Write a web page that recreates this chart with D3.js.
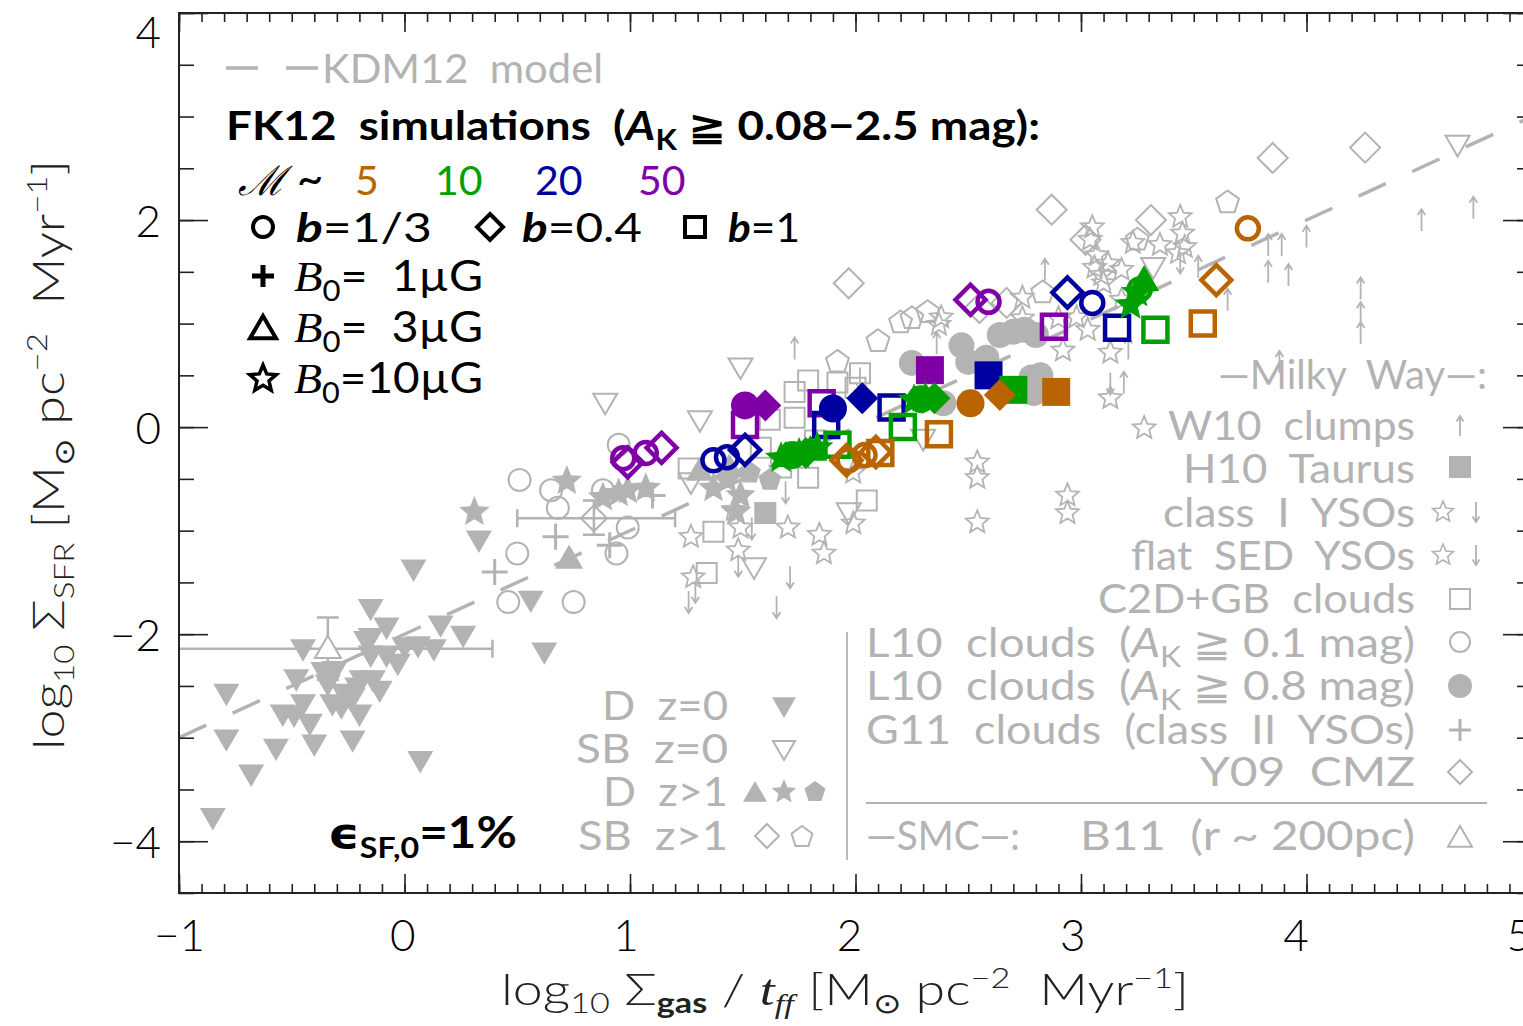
<!DOCTYPE html>
<html><head><meta charset="utf-8">
<script src="https://cdn.jsdelivr.net/npm/d3@7"></script>
<style>
body{margin:0;background:#fff}
svg text{font-family:Lato,"DejaVu Sans",sans-serif;white-space:pre}
</style></head><body>
<script>
// ---- data (log10 Sigma_gas/t_ff , log10 Sigma_SFR) ----
const xTicks = [-1, 0, 1, 2, 3, 4, 5];
const yTicks = [-4, -2, 0, 2, 4];
const kdmLine = [[-1, -3], [5, 3]];

// galaxies
const dZ0 = [[-0.79,-2.57],[-0.79,-3.01],[-0.68,-3.35],[-0.85,-3.77],[-0.57,-3.10],[-0.54,-2.77],[-0.49,-2.78],
  [-0.45,-2.67],[-0.48,-2.43],[-0.42,-2.86],[-0.40,-3.06],[-0.45,-2.14],[-0.36,-2.36],[-0.31,-2.35],[-0.32,-2.67],
  [-0.28,-2.70],[-0.23,-2.61],[-0.20,-2.77],[-0.23,-3.02],[-0.15,-1.75],[-0.15,-2.03],[-0.08,-1.93],[-0.15,-2.20],
  [-0.08,-2.20],[-0.03,-2.28],[-0.19,-2.44],[-0.14,-2.44],[-0.11,-2.54],[0.00,-2.12],[0.06,-2.11],[0.13,-2.14],
  [0.16,-1.91],[0.26,-2.01],[0.04,-1.37],[0.07,-3.22],[0.33,-1.09],[0.56,-1.67],[0.62,-2.17],[-0.17,-2.06],
  [-0.34,-2.48],[-0.27,-2.57],[-0.21,-2.51]];
const sbZ0 = [[0.89,0.24],[1.49,0.58],[1.31,0.07],[1.27,-0.53],[1.55,-1.35],[1.97,-0.82],[2.30,-0.11],[3.32,1.55],[4.67,2.73]];
const dZ1Tri = [[0.73,-1.27],[1.31,-0.42],[1.44,-0.39]];
const dZ1Star = [[0.31,-0.82],[0.72,-0.52],[0.88,-0.68],[0.95,-0.64],[0.99,-0.61],[1.07,-0.59],[1.43,-0.51],[1.49,-0.66],[1.47,-0.82],[1.37,-0.59]];
const dZ1Pent = [[1.53,-0.44],[1.62,-0.51]];
const sbZ1Diam = [[1.97,1.39],[2.87,2.10],[3.31,2.00],[3.85,2.60],[4.26,2.70],[3.02,1.81],[2.67,1.20],[2.55,1.15]];
const sbZ1Pent = [[1.92,0.63],[2.10,0.83],[2.20,1.01],[2.25,1.05],[2.32,1.11],[2.83,1.30],[3.25,1.81],[3.65,2.17]];

// Milky Way
const w10Clumps = [[1.73,0.76],[2.36,0.81],[2.84,1.52],[3.21,0.76],[3.19,0.43],[3.52,1.55],[3.65,1.23],[3.83,1.76],
  [3.89,1.76],[4.00,1.84],[3.83,1.50],[3.92,1.47],[4.24,1.34],[4.24,1.10],[4.24,0.91],[4.51,2.00],[4.74,2.12],[3.88,0.63]];
const h10Taurus = [[1.60,-0.83]];
const ysoStars = [[1.27,-1.06],[1.46,-0.80],[1.49,-0.97],[1.48,-1.19],[1.28,-1.45],[1.70,-0.97],[1.84,-1.04],[1.86,-1.22],
  [1.99,-0.93],[1.99,-0.44],[2.54,-0.34],[2.54,-0.49],[2.54,-0.92],[2.94,-0.66],[2.94,-0.83],[3.13,0.28],[3.28,-0.01],
  [2.38,1.06],[2.37,0.99],[2.74,1.25],[2.74,1.05],[2.92,0.74],[3.13,0.72],[2.98,1.06],[3.03,0.94],[3.05,1.93],
  [3.12,1.58],[3.06,1.54],[3.09,1.47],[3.10,1.39],[3.23,1.78],[3.44,2.03],[3.45,1.87],[3.46,1.74],[3.43,1.68],
  [3.04,1.81],[3.18,1.52],[3.07,1.66],[2.90,1.05],[3.18,1.23],[3.35,1.76]];
const ysoLimits = [[1.26,-1.69],[1.29,-1.59],[1.48,-1.34],[1.65,-1.74],[1.71,-1.45],[1.54,-0.98],[1.69,-0.63],[2.02,0.47],[3.13,0.42],[3.44,1.59]];
const c2dClouds = [[1.26,-0.40],[1.37,-1.01],[1.34,-1.41],[1.62,0.07],[1.73,0.09],[1.73,0.34],[1.79,0.45],[1.92,0.43],
  [2.02,0.52],[2.00,0.38],[1.67,-0.39],[1.79,-0.49],[2.05,-0.71],[1.58,-0.20],[1.82,-0.13]];
const l10Low = [[0.51,-0.51],[0.65,-0.61],[0.68,-0.78],[0.50,-1.22],[0.46,-1.69],[0.75,-1.69],[0.94,-1.22],[0.99,-0.97],[0.95,-0.17],[0.88,-0.61]];
const l10High = [[2.25,0.62],[2.39,0.23],[2.47,0.79],[2.50,0.63],[2.58,0.67],[2.64,0.89],[2.70,0.92],[2.75,0.94],[2.80,0.89],[2.78,0.48],[2.82,0.50],[2.79,0.33]];
const g11Clouds = [[0.67,-1.06],[0.40,-1.40],[0.91,-1.14],[1.10,-0.66]];
const y09Cmz = [[0.84,-0.88,0.50,1.20,-1.04,-0.71]];   // x, y, xlo, xhi, ylo, yhi
const b11Smc = [[-0.34,-2.14,-1.10,0.39,-2.44,-1.84]];

// FK12 simulations: [marker, x, y]
const fkM5 = [["circleOpen",3.74,1.92],["diamondOpen",3.60,1.42],["squareOpen",3.54,1.00],["squareFilled",2.89,0.34],
  ["circleFilled",2.51,0.23],["diamondFilled",2.64,0.31],["squareOpen",2.37,-0.07],["circleOpen",1.97,-0.32],
  ["diamondOpen",1.96,-0.32],["circleOpen",2.04,-0.27],["diamondOpen",2.09,-0.24],["squareOpen",2.11,-0.25]];
const fkM10 = [["starFilled",1.67,-0.30],["triFilled",1.69,-0.28],["circleFilled",1.72,-0.27],["starFilled",1.75,-0.26],
  ["diamondFilled",1.78,-0.25],["triFilled",1.80,-0.22],["starFilled",1.83,-0.20],["starFilled",2.26,0.26],
  ["circleFilled",2.29,0.27],["triFilled",2.31,0.29],["diamondFilled",2.35,0.28],["starFilled",3.22,1.18],
  ["starFilled",3.25,1.30],["triFilled",3.28,1.42],["circleOpen",3.26,1.33],["squareOpen",1.92,-0.17],
  ["squareOpen",2.21,0.00],["squareOpen",3.33,0.94],["squareFilled",2.70,0.36]];
const fkM20 = [["circleOpen",1.37,-0.32],["circleOpen",1.43,-0.29],["diamondOpen",1.51,-0.22],["circleOpen",3.05,1.20],
  ["diamondOpen",2.94,1.30],["circleFilled",1.90,0.18],["diamondFilled",2.03,0.28],["squareOpen",1.87,0.02],
  ["squareOpen",2.16,0.19],["squareOpen",3.16,0.96],["squareFilled",2.59,0.50]];
const fkM50 = [["circleOpen",0.97,-0.30],["diamondOpen",0.99,-0.34],["circleOpen",1.07,-0.25],["diamondOpen",1.14,-0.20],
  ["diamondOpen",2.51,1.23],["circleOpen",2.59,1.21],["circleFilled",1.51,0.21],["diamondFilled",1.60,0.21],
  ["squareOpen",1.51,0.02],["squareOpen",1.85,0.23],["squareOpen",2.88,0.97],["squareFilled",2.33,0.55]];

// ---- drawing ----
const W = 1523, H = 1026;
const GRAY = "#b3b3b3";
const machColor = {M5:"#b86400", M10:"#00a000", M20:"#0000a0", M50:"#8000a8"};

const svg = d3.select("body").append("svg").attr("width", W).attr("height", H);
const x = d3.scaleLinear().domain([-1, 5]).range([179, 1532]);
const y = d3.scaleLinear().domain([-4.5, 4]).range([893, 13]);

svg.append("clipPath").attr("id","clip").append("rect")
  .attr("x", x(-1)).attr("y", y(4)).attr("width", x(5)-x(-1)).attr("height", y(-4.5)-y(4));

function poly(n, s, rot) {
  const p = [];
  for (let i = 0; i < n; i++) { const a = rot + i*2*Math.PI/n; p.push([s*Math.cos(a), s*Math.sin(a)]); }
  return "M" + p.map(d => d[0].toFixed(2)+","+d[1].toFixed(2)).join("L") + "Z";
}
function starP(R, r) {
  const p = [];
  for (let i = 0; i < 10; i++) { const a = -Math.PI/2 + i*Math.PI/5, q = i%2 ? r : R; p.push([q*Math.cos(a), q*Math.sin(a)]); }
  return "M" + p.map(d => d[0].toFixed(2)+","+d[1].toFixed(2)).join("L") + "Z";
}
function shape(t, s) {
  switch (t) {
    case "circle": return `M${s},0A${s},${s} 0 1,1 ${-s},0A${s},${s} 0 1,1 ${s},0Z`;
    case "square": return `M${-s},${-s}H${s}V${s}H${-s}Z`;
    case "diamond": return `M0,${-s}L${s},0L0,${s}L${-s},0Z`;
    case "tri": return `M0,${-s}L${s},${0.72*s}L${-s},${0.72*s}Z`;
    case "dtri": return `M0,${s}L${s},${-0.72*s}L${-s},${-0.72*s}Z`;
    case "star": return starP(s, s*0.45);
    case "pent": return poly(5, s, -Math.PI/2);
    case "plus": return `M${-s},0H${s}M0,${-s}V${s}`;
    case "up": return `M0,${s}V${-s}M${-s*0.35},${-s*0.45}L0,${-s}L${s*0.35},${-s*0.45}`;
    case "down": return `M0,${-s}V${s}M${-s*0.35},${s*0.45}L0,${s}L${s*0.35},${s*0.45}`;
  }
}

const plot = svg.append("g").attr("clip-path", "url(#clip)");

// model line
plot.append("path").datum(kdmLine)
  .attr("d", d3.line().x(d => x(d[0])).y(d => y(d[1])))
  .attr("fill","none").attr("stroke",GRAY).attr("stroke-width",3.5).attr("stroke-dasharray","30,29");

function pts(data, t, s, style) {
  plot.append("g").selectAll("path").data(data).join("path")
    .attr("transform", d => `translate(${x(d[0])},${y(d[1])})`)
    .attr("d", shape(t, s))
    .attr("fill", style.fill || "none")
    .attr("stroke", style.stroke || "none")
    .attr("stroke-width", style.sw || 0)
    .attr("stroke-linejoin","miter");
}
function errbars(data) {
  const g = plot.append("g").attr("stroke", GRAY).attr("stroke-width", 2.5).attr("fill","none");
  data.forEach(d => {
    g.append("path").attr("d",
      `M${x(d[2])},${y(d[1])}H${x(d[3])}M${x(d[2])},${y(d[1])-9}v18M${x(d[3])},${y(d[1])-9}v18` +
      `M${x(d[0])},${y(d[4])}V${y(d[5])}M${x(d[0])-11},${y(d[4])}h22M${x(d[0])-11},${y(d[5])}h22`);
  });
}

errbars(b11Smc);
errbars(y09Cmz);
pts(dZ0, "dtri", 13, {fill: GRAY});
pts(sbZ0, "dtri", 12, {stroke: GRAY, sw: 2});
pts(dZ1Tri, "tri", 14, {fill: GRAY});
pts(dZ1Star, "star", 16, {fill: GRAY});
pts(dZ1Pent, "pent", 12, {fill: GRAY});
pts(sbZ1Diam, "diamond", 15, {stroke: GRAY, sw: 2});
pts(sbZ1Pent, "pent", 12, {stroke: GRAY, sw: 2});
pts(w10Clumps, "up", 11, {stroke: GRAY, sw: 1.8});
pts(ysoLimits, "down", 11, {stroke: GRAY, sw: 1.8});
pts(ysoStars, "star", 12, {stroke: GRAY, sw: 1.8});
pts(c2dClouds, "square", 10, {stroke: GRAY, sw: 2});
pts(l10Low, "circle", 11, {stroke: GRAY, sw: 2});
pts(l10High, "circle", 13, {fill: GRAY});
pts(g11Clouds, "plus", 13, {stroke: GRAY, sw: 3});
pts(h10Taurus, "square", 11, {fill: GRAY});
pts(b11Smc, "tri", 13, {stroke: GRAY, sw: 2, fill: "#fff"});
pts(y09Cmz, "diamond", 13, {stroke: GRAY, sw: 2});

const markerDef = {
  circleOpen: ["circle", 11, false], circleFilled: ["circle", 14, true],
  squareOpen: ["square", 12, false], squareFilled: ["square", 14, true],
  diamondOpen: ["diamond", 15, false], diamondFilled: ["diamond", 16, true],
  starFilled: ["star", 17, true], triFilled: ["tri", 15, true]
};
[["M50", fkM50], ["M20", fkM20], ["M10", fkM10], ["M5", fkM5]].forEach(([k, arr]) => {
  const c = machColor[k];
  plot.append("g").selectAll("path").data(arr).join("path")
    .attr("transform", d => `translate(${x(d[1])},${y(d[2])})`)
    .attr("d", d => shape(markerDef[d[0]][0], markerDef[d[0]][1]))
    .attr("fill", d => markerDef[d[0]][2] ? c : "none")
    .attr("stroke", d => markerDef[d[0]][2] ? "none" : c)
    .attr("stroke-width", 4.5);
});

// ---- axes ----
const fmt = d => d < 0 ? "\u2212" + Math.abs(d) : String(d);
const xMinor = d3.range(-1, 5.0001, 0.1).map(v => +v.toFixed(2));
const yMinor = d3.range(-4.5, 4.0001, 0.5);
function styleAx(g) { g.select(".domain").remove(); g.selectAll("line").attr("stroke","#222").attr("stroke-width",1.6); }
const fs = 44;
svg.append("g").attr("transform",`translate(0,${y(-4.5)})`).call(d3.axisBottom(x).tickValues(xMinor).tickSize(-9).tickFormat("")).call(styleAx);
svg.append("g").attr("transform",`translate(0,${y(-4.5)})`).call(d3.axisBottom(x).tickValues(xTicks).tickSize(-19).tickPadding(27).tickFormat(fmt)).call(styleAx)
  .selectAll("text").attr("font-size", fs).attr("font-weight",300).attr("fill","#000").attr("font-family","Lato")
  .attr("dx", d => -(d + 1) * 2.2);
svg.append("g").attr("transform",`translate(0,${y(4)})`).call(d3.axisTop(x).tickValues(xMinor).tickSize(-9).tickFormat("")).call(styleAx);
svg.append("g").attr("transform",`translate(0,${y(4)})`).call(d3.axisTop(x).tickValues(xTicks).tickSize(-19).tickFormat("")).call(styleAx);
svg.append("g").attr("transform",`translate(${x(-1)},0)`).call(d3.axisLeft(y).tickValues(yMinor).tickSize(-15).tickFormat("")).call(styleAx);
svg.append("g").attr("transform",`translate(${x(-1)},0)`).call(d3.axisLeft(y).tickValues(yTicks).tickSize(-29).tickPadding(18).tickFormat(fmt)).call(styleAx)
  .selectAll("text").attr("font-size", fs).attr("font-weight",300).attr("fill","#000").attr("font-family","Lato")
  .attr("y", d => d === 4 ? 20 : 2);
svg.append("g").attr("transform",`translate(${x(5)},0)`).call(d3.axisRight(y).tickValues(yMinor).tickSize(-15).tickFormat("")).call(styleAx);
svg.append("g").attr("transform",`translate(${x(5)},0)`).call(d3.axisRight(y).tickValues(yTicks).tickSize(-29).tickFormat("")).call(styleAx);
svg.append("rect").attr("x", x(-1)).attr("y", y(4)).attr("width", x(5)-x(-1)).attr("height", y(-4.5)-y(4))
  .attr("fill","none").attr("stroke","#222").attr("stroke-width",2);

// rich text helper: sub/superscripts
function rich(t, parts, subDy) {
  const sd = subDy || 10;
  parts.forEach(p => {
    const s = t.append("tspan").text(p.t);
    if (p.sub) s.attr("font-size", 28).attr("dy", sd);
    if (p.sup) s.attr("font-size", 28).attr("dy", -17);
    if (p.back) s.attr("dy", p.back);
    if (p.it) s.attr("font-style","italic");
    if (p.w) s.attr("font-weight", p.w);
    if (p.ff) s.attr("font-family", p.ff);
  });
  return t;
}
function fit(t, len) { return t.attr("textLength", len).attr("lengthAdjust", "spacingAndGlyphs"); }

const yl = svg.append("text").attr("transform","translate(64,455) rotate(-90)").attr("text-anchor","middle")
  .attr("font-size", 44).attr("font-weight",300).attr("fill","#222");
rich(yl, [{t:"log"},{t:"10",sub:1},{t:" \u03a3",back:-10},{t:"SFR",sub:1},{t:" [M",back:-10},{t:"\u2299",sub:1,ff:"DejaVu Sans"},
  {t:" pc",back:-10},{t:"\u22122",sup:1},{t:"  Myr",back:17},{t:"\u22121",sup:1},{t:"]",back:17}]);
fit(yl, 590);
const xl = svg.append("text").attr("x", 845).attr("y", 1005).attr("text-anchor","middle")
  .attr("font-size", 44).attr("font-weight",300).attr("fill","#222");
rich(xl, [{t:"log"},{t:"10",sub:1},{t:" \u03a3",back:-8},{t:"gas",sub:1,w:700},{t:" / ",back:-8},{t:"t",it:1,ff:"Liberation Serif"},
  {t:"ff",sub:1,it:1,ff:"Liberation Serif"},{t:" [M",back:-8},{t:"\u2299",sub:1,ff:"DejaVu Sans"},
  {t:" pc",back:-8},{t:"\u22122",sup:1},{t:"  Myr",back:17},{t:"\u22121",sup:1},{t:"]",back:17}], 8);
fit(xl, 688);

// ---- legends ----
const lg = svg.append("g");
function txt(xp, yp, anchor, color, size, weight) {
  return lg.append("text").attr("x", xp).attr("y", yp).attr("text-anchor", anchor)
    .attr("fill", color).attr("font-size", size).attr("font-weight", weight);
}
function sym(t, s, xp, yp, style) {
  lg.append("path").attr("transform",`translate(${xp},${yp})`).attr("d", shape(t, s))
    .attr("fill", style.fill || "none").attr("stroke", style.stroke || "none").attr("stroke-width", style.sw || 0);
}
// KDM12
lg.append("path").attr("d","M226,68H258M286,68H318").attr("stroke",GRAY).attr("stroke-width",3.5);
fit(txt(322, 83, "start", GRAY, 41, 400).text("KDM12  model"), 281);
// FK12
fit(rich(txt(226, 140, "start", "#000", 41, 700), [{t:"FK12  simulations  ("},{t:"A",it:1},{t:"K",sub:1},{t:" \u2267 0.08\u22122.5 mag):",back:-10}]), 814);
const mt = txt(238, 195, "start", "#000", 41, 400);
mt.append("tspan").text("\u2133").attr("font-family","DejaVu Serif").attr("font-style","italic");
mt.append("tspan").text(" ~  ").attr("font-size", 46);
[["5","M5"],["10","M10"],["20","M20"],["50","M50"]].forEach(([s,k],i) => {
  mt.append("tspan").attr("x", [355,435,535,638][i]).text(s).attr("fill", machColor[k]);
});
sym("circle", 10, 263, 227, {stroke:"#000", sw:4});
fit(rich(txt(296, 242, "start", "#000", 41, 400), [{t:"b",it:1,w:700},{t:"=1/3"}]), 136);
sym("diamond", 13, 490, 227, {stroke:"#000", sw:4});
fit(rich(txt(522, 242, "start", "#000", 41, 400), [{t:"b",it:1,w:700},{t:"=0.4"}]), 120);
sym("square", 10, 695, 227, {stroke:"#000", sw:4});
fit(rich(txt(728, 242, "start", "#000", 41, 400), [{t:"b",it:1,w:700},{t:"=1"}]), 72);
sym("plus", 11, 263, 276, {stroke:"#000", sw:5});
sym("tri", 13, 263, 329, {stroke:"#000", sw:4});
sym("star", 14, 263, 379, {stroke:"#000", sw:3.5});
[["  1\u00b5G",291],["  3\u00b5G",342],["10\u00b5G",393]].forEach(([v,yy]) => {
  fit(rich(txt(294, yy, "start", "#000", 42, 400), [{t:"B",it:1,ff:"Liberation Serif"},{t:"0",sub:1},{t:"=",back:-10},{t:v}]), 189);
});
fit(rich(txt(328, 848, "start", "#000", 43, 700), [{t:"\u03f5",ff:"DejaVu Sans"},{t:"SF,0",sub:1},{t:"=1%",back:-10}]), 189);

// bottom-left galaxy key
[["D  z=0",720,126],["SB  z=0",763,152],["D  z>1",806,125],["SB  z>1",850,150]].forEach(([s,yy,w]) => fit(txt(728, yy, "end", GRAY, 40, 400).text(s), w));
sym("dtri", 12, 784, 706, {fill: GRAY});
sym("dtri", 11, 784, 749, {stroke: GRAY, sw: 2});
sym("tri", 12, 755, 793, {fill: GRAY});
sym("star", 13, 784, 792, {fill: GRAY});
sym("pent", 11, 815, 792, {fill: GRAY});
sym("diamond", 12, 767, 836, {stroke: GRAY, sw: 2});
sym("pent", 11, 802, 837, {stroke: GRAY, sw: 2});

// right key
fit(txt(1487, 389, "end", GRAY, 40, 400).text("\u2014Milky  Way\u2014:"), 269);
const rk = [["W10  clumps",426,247],["H10  Taurus",469,232],["class  I  YSOs",513,252],["flat  SED  YSOs",556,284],["C2D+GB  clouds",599,317]];
rk.forEach(([s,yy,w]) => fit(txt(1415, yy+14, "end", GRAY, 40, 400).text(s), w));
fit(rich(txt(1415, 657, "end", GRAY, 40, 400), [{t:"L10  clouds  ("},{t:"A",it:1},{t:"K",sub:1},{t:" \u2267 0.1 mag)",back:-10}]), 549);
fit(rich(txt(1415, 700, "end", GRAY, 40, 400), [{t:"L10  clouds  ("},{t:"A",it:1},{t:"K",sub:1},{t:" \u2267 0.8 mag)",back:-10}]), 549);
fit(txt(1415, 744, "end", GRAY, 40, 400).text("G11  clouds  (class  II  YSOs)"), 549);
fit(txt(1415, 786, "end", GRAY, 40, 400).text("Y09  CMZ"), 215);
fit(txt(866, 850, "start", GRAY, 40, 400).text("\u2014SMC\u2014:"), 154);
fit(txt(1415, 850, "end", GRAY, 40, 400).text("B11  (r ~ 200pc)"), 335);
lg.append("path").attr("d","M866,803H1487M847,632V860").attr("stroke",GRAY).attr("stroke-width",1.8);
sym("up", 10, 1460, 426, {stroke: GRAY, sw: 1.8});
sym("square", 11, 1460, 467, {fill: GRAY});
sym("star", 11, 1443, 512, {stroke: GRAY, sw: 1.6});
sym("down", 10, 1476, 512, {stroke: GRAY, sw: 1.8});
sym("star", 11, 1443, 555, {stroke: GRAY, sw: 1.6});
sym("down", 10, 1476, 555, {stroke: GRAY, sw: 1.8});
sym("square", 10, 1460, 599, {stroke: GRAY, sw: 2});
sym("circle", 10, 1460, 642, {stroke: GRAY, sw: 2});
sym("circle", 12, 1460, 686, {fill: GRAY});
sym("plus", 11, 1460, 730, {stroke: GRAY, sw: 3});
sym("diamond", 12, 1460, 772, {stroke: GRAY, sw: 2});
sym("tri", 12, 1460, 838, {stroke: GRAY, sw: 2});
</script>
</body></html>
